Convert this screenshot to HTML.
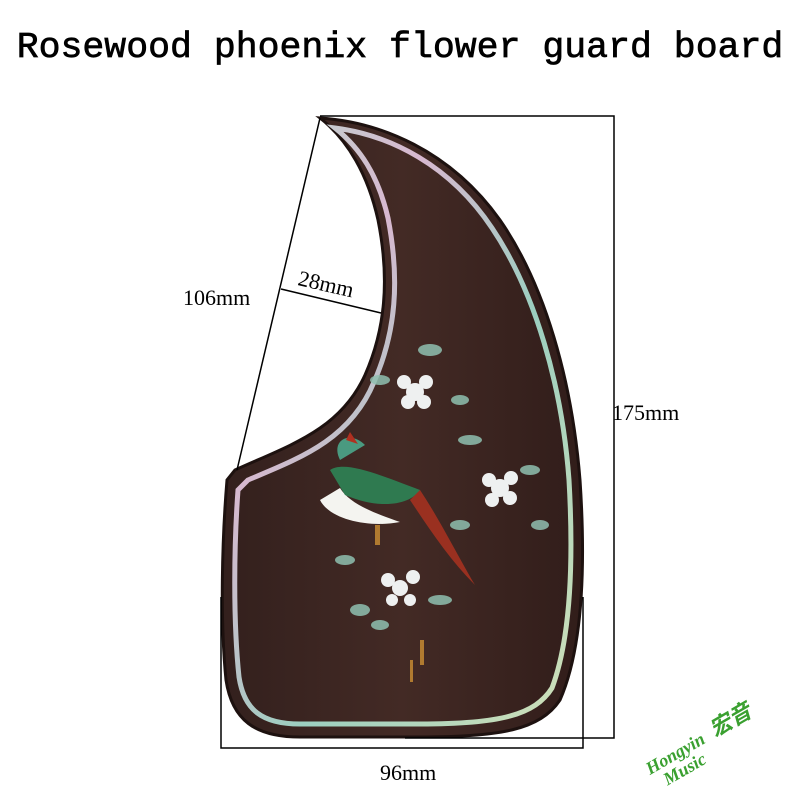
<!DOCTYPE html>
<html><head><style>
html,body{margin:0;padding:0;background:#fff;}
svg{display:block;}
</style></head><body>
<svg width="800" height="800" viewBox="0 0 800 800" xmlns="http://www.w3.org/2000/svg">
<defs>
<linearGradient id="wood" x1="0" y1="0" x2="1" y2="0">
<stop offset="0" stop-color="#33201d"/><stop offset="0.5" stop-color="#432a25"/><stop offset="1" stop-color="#311d1a"/>
</linearGradient>
<linearGradient id="ab" x1="0" y1="0" x2="1" y2="1">
<stop offset="0" stop-color="#b8d8cc"/><stop offset="0.3" stop-color="#d8b8d0"/><stop offset="0.6" stop-color="#9ccfc0"/><stop offset="1" stop-color="#d0e0b8"/>
</linearGradient>
</defs>
<text x="400" y="57" text-anchor="middle" font-family="Liberation Mono, monospace" font-size="36.5" fill="#000" stroke="#000" stroke-width="0.7">Rosewood phoenix flower guard board</text>
<path d="M320,118 C380,122 450,150 500,220 C545,285 572,380 580,480 C586,570 582,650 560,700 C540,730 500,737 420,737 L300,737 C255,737 232,720 226,680 C220,620 222,540 227,480 L235,470 C290,445 340,430 365,375 C385,330 390,280 378,220 C368,175 348,140 320,118 Z" fill="url(#wood)" stroke="#1d110f" stroke-width="3"/>
<path d="M335,128 C390,135 450,165 492,228 C535,292 562,385 569,480 C574,568 570,640 552,688 C535,715 500,724 420,724 L300,724 C262,724 244,710 239,677 C233,620 234,545 238,490 L248,480 C300,458 350,440 374,382 C396,332 400,280 388,218 C378,175 360,148 335,128 Z" fill="none" stroke="url(#ab)" stroke-width="5"/>
<g>
<path d="M320,500 C330,520 370,528 400,522 C380,515 350,505 340,488 Z" fill="#f4f4f0"/>
<path d="M330,470 C345,460 380,475 420,490 C410,505 380,510 345,495 Z" fill="#2f7a50"/>
<path d="M340,460 C330,440 350,430 365,445 Z" fill="#4a9a80"/>
<path d="M420,490 C440,520 460,560 475,585 C450,560 430,530 410,500 Z" fill="#9a3020"/>
<path d="M350,432 L358,444 L346,440 Z" fill="#b03020"/>
<g fill="#eef0f0">
<circle cx="415" cy="392" r="9"/><circle cx="404" cy="382" r="7"/><circle cx="426" cy="382" r="7"/><circle cx="408" cy="402" r="7"/><circle cx="424" cy="402" r="7"/>
<circle cx="500" cy="488" r="9"/><circle cx="489" cy="480" r="7"/><circle cx="511" cy="478" r="7"/><circle cx="492" cy="500" r="7"/><circle cx="510" cy="498" r="7"/>
<circle cx="400" cy="588" r="8"/><circle cx="388" cy="580" r="7"/><circle cx="413" cy="577" r="7"/><circle cx="392" cy="600" r="6"/><circle cx="410" cy="600" r="6"/>
</g>
<g fill="#8fc0b0" opacity="0.85">
<ellipse cx="430" cy="350" rx="12" ry="6"/><ellipse cx="380" cy="380" rx="10" ry="5"/><ellipse cx="460" cy="400" rx="9" ry="5"/><ellipse cx="470" cy="440" rx="12" ry="5"/><ellipse cx="530" cy="470" rx="10" ry="5"/><ellipse cx="540" cy="525" rx="9" ry="5"/><ellipse cx="460" cy="525" rx="10" ry="5"/><ellipse cx="345" cy="560" rx="10" ry="5"/><ellipse cx="440" cy="600" rx="12" ry="5"/><ellipse cx="360" cy="610" rx="10" ry="6"/><ellipse cx="380" cy="625" rx="9" ry="5"/>
</g>
<g fill="#b07a30"><rect x="420" y="640" width="4" height="25"/><rect x="410" y="660" width="3" height="22"/><rect x="375" y="525" width="5" height="20"/></g>
</g>
<g stroke="#000" stroke-width="1.5" fill="none">
<line x1="320" y1="118" x2="237" y2="470"/>
<line x1="281" y1="289" x2="381" y2="313"/>
<polyline points="320,116 614,116 614,738 405,738"/>
<polyline points="221,597 221,748 583,748 583,597"/>
</g>
<g font-family="Liberation Serif, serif" font-size="22" fill="#000">
<text x="183" y="305">106mm</text>
<text x="298" y="290" transform="rotate(13 320 283)">28mm</text>
<text x="612" y="420">175mm</text>
<text x="380" y="780">96mm</text>
</g>
<g transform="translate(650,775) rotate(-30)" font-family="Liberation Serif, serif" font-style="italic" font-weight="bold" fill="#3aa030">
<text x="0" y="0" font-size="18">Hongyin</text>
<text x="10" y="18" font-size="18">Music</text>
<text x="75" y="0" font-size="22" font-family="Noto Sans CJK SC, sans-serif">宏音</text>
</g>
</svg>
</body></html>
